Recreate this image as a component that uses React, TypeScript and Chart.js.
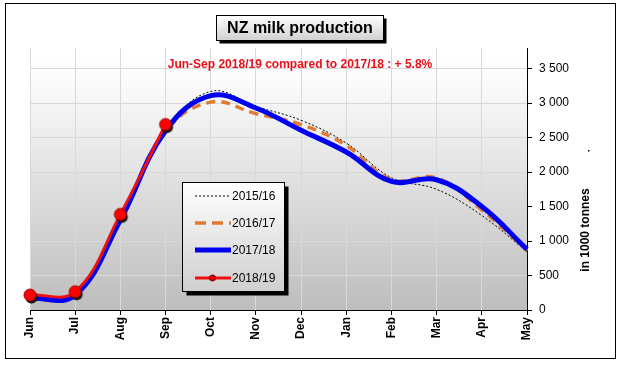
import React, { useEffect, useRef } from 'react';
import { Chart, registerables } from 'chart.js';

Chart.register(...registerables);

const months = ['Jun', 'Jul', 'Aug', 'Sep', 'Oct', 'Nov', 'Dec', 'Jan', 'Feb', 'Mar', 'Apr', 'May'];
const s1516 = [175, 215, 1300, 2600, 3170, 2952, 2751, 2421, 1918, 1750, 1370, 845];
const s1617 = [180, 220, 1310, 2590, 3015, 2847, 2689, 2388, 1889, 1915, 1452, 860];
const s1718 = [170, 215, 1304, 2600, 3110, 2930, 2607, 2291, 1865, 1889, 1500, 880];
const s1819 = [217, 265, 1387, 2691];
const seriesLabels = ['2015/16', '2016/17', '2017/18', '2018/19'];
const yMax = 3800;
const yTickValues = [0, 500, 1000, 1500, 2000, 2500, 3000, 3500];
const chartTitle = 'NZ milk production';
const subTitle = 'Jun-Sep 2018/19 compared to 2017/18 : + 5.8%';
const yTitle = 'in 1000 tonnes';

const FONT = "Arial, 'Liberation Sans', sans-serif";

function fmt(v: number): string {
  if (v >= 1000) {
    const t = Math.floor(v / 1000);
    const r = Math.round(v % 1000);
    return `${t} ${String(r).padStart(3, '0')}`;
  }
  return String(v);
}

function makeMarker(): HTMLCanvasElement {
  const cv = document.createElement('canvas');
  cv.width = 20;
  cv.height = 20;
  const g = cv.getContext('2d')!;
  g.fillStyle = '#111';
  g.beginPath();
  g.arc(11.5, 12.5, 6, 0, Math.PI * 2);
  g.fill();
  g.fillStyle = '#ff0000';
  g.strokeStyle = '#9a0000';
  g.lineWidth = 1;
  g.beginPath();
  g.arc(10, 10, 6, 0, Math.PI * 2);
  g.fill();
  g.stroke();
  return cv;
}

const decor = {
  id: 'decor',
  beforeDraw(chart: any) {
    const { ctx, chartArea: a } = chart;
    ctx.save();
    ctx.fillStyle = '#ffffff';
    ctx.fillRect(0, 0, chart.width, chart.height);
    const gr = ctx.createLinearGradient(0, a.top, 0, a.bottom);
    gr.addColorStop(0, '#ffffff');
    gr.addColorStop(0.12, '#fcfcfc');
    gr.addColorStop(1, '#bdbdbd');
    ctx.fillStyle = gr;
    ctx.fillRect(a.left, a.top, a.right - a.left, a.bottom - a.top);
    ctx.restore();
  },
  afterDraw(chart: any) {
    const { ctx } = chart;
    ctx.save();
    // outer frame
    ctx.strokeStyle = '#000';
    ctx.lineWidth = 1;
    ctx.strokeRect(5.5, 3.5, 610, 355);

    // title box
    const tx = 216.5, ty = 15.5, tw = 167, th = 25;
    ctx.fillStyle = '#000';
    ctx.fillRect(tx + 3, ty + 3, tw, th);
    let g = ctx.createLinearGradient(0, ty, 0, ty + th);
    g.addColorStop(0, '#ffffff');
    g.addColorStop(1, '#d0d0d0');
    ctx.fillStyle = g;
    ctx.fillRect(tx, ty, tw, th);
    ctx.strokeRect(tx, ty, tw, th);
    ctx.fillStyle = '#000';
    ctx.font = `bold 16px ${FONT}`;
    ctx.textAlign = 'center';
    ctx.textBaseline = 'middle';
    ctx.fillText(chartTitle, tx + tw / 2, ty + th / 2 + 1);

    // subtitle
    ctx.fillStyle = '#e8101a';
    ctx.font = `bold 12px ${FONT}`;
    ctx.fillText(subTitle, 300, 65);

    // y axis title
    ctx.save();
    ctx.translate(586, 230);
    ctx.rotate(-Math.PI / 2);
    ctx.fillStyle = '#000';
    ctx.font = `bold 12px ${FONT}`;
    ctx.fillText(yTitle, 0, 0);
    ctx.restore();
    ctx.fillStyle = '#000';
    ctx.fillRect(588, 150, 1.5, 1.5);

    // legend
    const lx = 182.5, ly = 182.5, lw = 102, lh = 109;
    ctx.fillStyle = '#000';
    ctx.fillRect(lx + 4, ly + 4, lw, lh);
    g = ctx.createLinearGradient(0, ly, 0, ly + lh);
    g.addColorStop(0, '#ffffff');
    g.addColorStop(1, '#cfcfcf');
    ctx.fillStyle = g;
    ctx.fillRect(lx, ly, lw, lh);
    ctx.strokeStyle = '#000';
    ctx.lineWidth = 1;
    ctx.strokeRect(lx, ly, lw, lh);

    const rows = [196, 223, 250, 278];
    const ds = chart.data.datasets;
    ds.forEach((d: any, i: number) => {
      const y = rows[i];
      ctx.save();
      ctx.strokeStyle = d.borderColor;
      ctx.lineWidth = d.borderWidth;
      ctx.setLineDash(i === 1 ? [11, 6] : d.borderDash || []);
      ctx.beginPath();
      ctx.moveTo(195, y);
      ctx.lineTo(i === 0 ? 229 : 231, y);
      ctx.stroke();
      ctx.setLineDash([]);
      if (i === 3) {
        ctx.fillStyle = '#e00000';
        ctx.strokeStyle = '#700000';
        ctx.lineWidth = 1;
        ctx.beginPath();
        ctx.arc(212.5, y, 3, 0, Math.PI * 2);
        ctx.fill();
        ctx.stroke();
      }
      ctx.fillStyle = '#000';
      ctx.font = `12px ${FONT}`;
      ctx.textAlign = 'left';
      ctx.textBaseline = 'middle';
      ctx.fillText(d.label, 232, y + 1);
      ctx.restore();
    });
    ctx.restore();
  },
};

export default function App() {
  const ref = useRef<HTMLCanvasElement>(null);
  useEffect(() => {
    const canvas = ref.current!;
    const marker = makeMarker();
    const chart = new Chart(canvas, {
      type: 'line',
      data: {
        labels: months,
        datasets: [
          {
            label: seriesLabels[0],
            data: s1516,
            borderColor: '#000000',
            borderWidth: 1,
            borderDash: [2, 2],
            pointRadius: 0,
            tension: 0.4,
            order: 3,
            clip: false,
          },
          {
            label: seriesLabels[1],
            data: s1617,
            borderColor: '#e07a35',
            borderWidth: 3.5,
            borderDash: [9, 6],
            pointRadius: 0,
            tension: 0.4,
            order: 2,
            clip: false,
          },
          {
            label: seriesLabels[2],
            data: s1718,
            borderColor: '#0000f0',
            borderWidth: 5,
            pointRadius: 0,
            tension: 0.4,
            order: 1,
            clip: false,
          },
          {
            label: seriesLabels[3],
            data: s1819,
            borderColor: '#f01010',
            borderWidth: 3,
            pointStyle: marker as any,
            pointRadius: 6,
            tension: 0.4,
            order: 0,
            clip: false,
          },
        ] as any,
      },
      options: {
        responsive: false,
        animation: false,
        events: [],
        layout: { padding: { left: 30, top: 48, right: 0, bottom: 0 } },
        plugins: {
          legend: { display: false },
          title: { display: false },
          tooltip: { enabled: false },
        },
        scales: {
          x: {
            type: 'category',
            offset: false,
            grid: { color: '#d9d9d9', tickColor: '#000', tickLength: 5, drawTicks: true },
            border: { color: '#000', width: 1 },
            ticks: {
              autoSkip: false,
              minRotation: 90,
              maxRotation: 90,
              color: '#000',
              padding: 2,
              font: { family: FONT, size: 12, weight: 'bold' },
            },
            afterFit: (s: any) => {
              s.height = 56;
            },
          },
          y: {
            position: 'right',
            min: 0,
            max: yMax,
            grid: { color: '#d9d9d9', tickColor: '#000', tickLength: 5 },
            border: { color: '#000', width: 1 },
            ticks: {
              color: '#000',
              padding: 7,
              font: { family: FONT, size: 12 },
              callback: (v: any) => fmt(Number(v)),
            },
            afterBuildTicks: (s: any) => {
              s.ticks = yTickValues.map((v) => ({ value: v }));
            },
            afterFit: (s: any) => {
              s.width = 90;
            },
          },
        },
      } as any,
      plugins: [decor],
    });
    return () => chart.destroy();
  }, []);
  return (
    <div style={{ position: 'fixed', left: 0, top: 0, width: 617, height: 366, background: '#fff' }}>
      <canvas ref={ref} width={617} height={366} style={{ display: 'block', width: 617, height: 366 }} />
    </div>
  );
}
